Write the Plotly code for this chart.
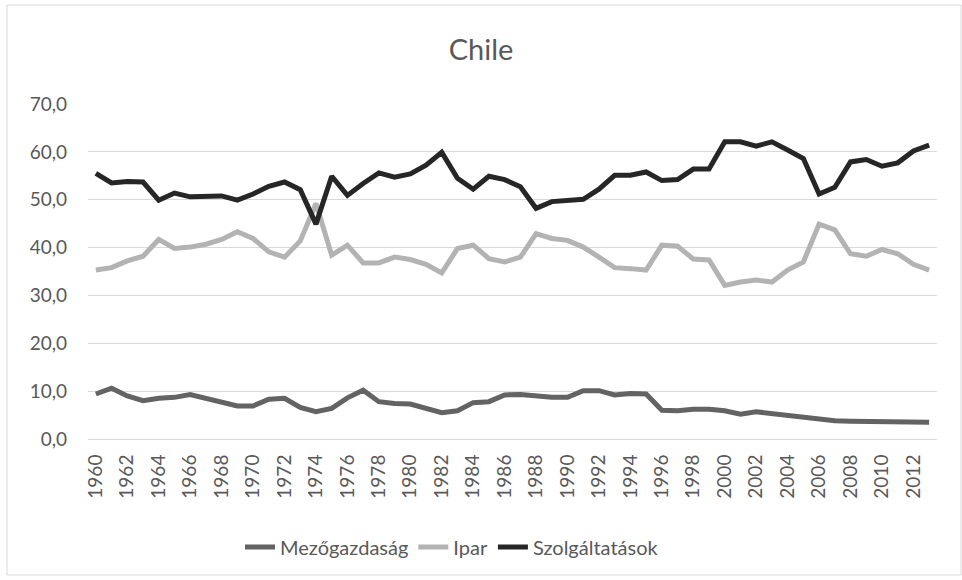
import plotly.graph_objects as go

years = list(range(1960, 2014))

mezogazdasag = [9.4, 10.6, 9.0, 8.0, 8.5, 8.7, 9.3, 8.5, 7.6, 6.9,
                6.9, 8.3, 8.5, 6.6, 5.7, 6.4, 8.6, 10.2, 7.8, 7.4,
                7.3, 6.4, 5.5, 5.9, 7.6, 7.8, 9.2, 9.3, 9.0, 8.7,
                8.7, 10.1, 10.1, 9.2, 9.5, 9.4, 6.0, 5.9, 6.2, 6.2,
                5.9, 5.2, 5.7, 5.3, 4.8, 4.6, 4.0, 3.8, 3.7, 3.7,
                3.5, 3.6, 3.5, 3.5]

ipar = [35.3, 35.8, 37.2, 38.2, 41.7, 39.8, 40.1, 40.7, 41.7, 43.3,
        41.9, 39.1, 38.0, 41.4, 49.2, 38.4, 40.5, 36.8, 36.8, 38.0,
        37.5, 36.5, 34.7, 39.8, 40.5, 37.7, 37.0, 38.0, 42.9, 41.9,
        41.5, 40.1, 38.0, 35.8, 35.6, 35.3, 40.5, 40.3, 37.6, 37.4,
        32.1, 32.8, 33.2, 32.8, 35.3, 37.0, 44.9, 43.7, 38.7, 38.2,
        39.6, 38.7, 36.5, 35.3]

szolgaltatasok = [55.5, 53.5, 53.8, 53.7, 49.9, 51.4, 50.6, 50.8, 50.8, 49.9,
                  51.2, 52.8, 53.7, 52.1, 44.9, 54.9, 50.9, 53.4, 55.6, 54.7,
                  55.4, 57.2, 59.9, 54.5, 52.2, 54.9, 54.2, 52.7, 48.2, 49.6,
                  49.9, 50.1, 52.2, 55.1, 55.1, 55.8, 54.0, 54.2, 56.4, 56.4,
                  62.1, 62.1, 61.2, 62.1, 60.4, 58.6, 51.2, 52.6, 57.9, 58.4,
                  57.0, 57.7, 60.2, 61.4]

series_names = ["Mezőgazdaság", "Ipar", "Szolgáltatások"]
series_colors = ["#636363", "#B3B3B3", "#262626"]
title_text = "Chile"

FONT = "Lato, Open Sans, sans-serif"
TEXT_COLOR = "#595959"

W, H = 962, 580
ML, MR, MT, MB = 88, 25, 104, 141

fig = go.Figure()
for name, vals, col in zip(series_names, [mezogazdasag, ipar, szolgaltatasok], series_colors):
    fig.add_trace(go.Scatter(
        x=[str(y) for y in years], y=vals, name=name, mode="lines",
        line=dict(color=col, width=5, shape="linear"),
    ))

pw = W - ML - MR
ph = H - MT - MB
def px_x(p):
    return (p - ML) / pw
def px_y(p):
    return (H - MB - p) / ph

fig.update_layout(
    width=W, height=H,
    margin=dict(l=ML, r=MR, t=MT, b=MB, pad=0),
    paper_bgcolor="white", plot_bgcolor="white",
    separators=",.",
    font=dict(family=FONT, color=TEXT_COLOR, size=18),
    title=dict(text=title_text, x=0.5, xanchor="center", y=1 - 50 / H, yanchor="middle",
               font=dict(family=FONT, size=29, color=TEXT_COLOR)),
    xaxis=dict(
        type="category", tickangle=-90, tickmode="array",
        tickvals=[str(y) for y in years[::2]],
        ticktext=[str(y) for y in years[::2]],
        showgrid=False, showline=True, linecolor="#D9D9D9", linewidth=1,
        ticks="", ticklabelstandoff=7,
        tickfont=dict(size=19, color=TEXT_COLOR, family=FONT),
        range=[-0.5, len(years) - 0.5], fixedrange=True,
    ),
    yaxis=dict(
        range=[0, 70], dtick=10, tickformat=".1f",
        showgrid=True, gridcolor="#D9D9D9", gridwidth=1,
        zeroline=False, showline=False, ticks="", ticklabelstandoff=20,
        tickfont=dict(size=19, color=TEXT_COLOR, family=FONT), fixedrange=True,
    ),
    legend=dict(orientation="h", x=px_x(452), xanchor="center", y=px_y(547), yanchor="middle",
                font=dict(size=20, color=TEXT_COLOR, family=FONT),
                tracegroupgap=0, bgcolor="rgba(0,0,0,0)"),
    shapes=[dict(type="rect", xref="paper", yref="paper",
                 x0=px_x(7), x1=px_x(961), y0=px_y(575), y1=px_y(5),
                 line=dict(color="#D9D9D9", width=1), fillcolor="rgba(0,0,0,0)", layer="below")],
)

fig.write_html("out.html", config={"displayModeBar": False},
               post_script="document.body.style.margin='0';document.body.style.overflow='hidden';")
